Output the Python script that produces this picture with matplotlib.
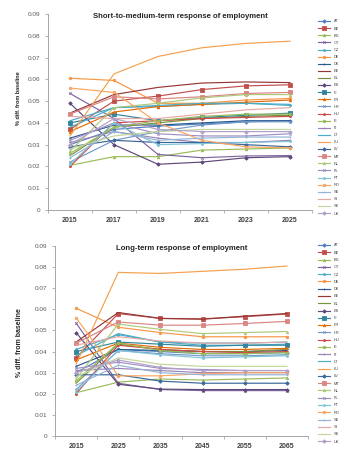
import matplotlib
matplotlib.use("Agg")
import matplotlib.pyplot as plt

plt.rcParams['font.family'] = ['Liberation Sans', 'DejaVu Sans']

countries = ["AT", "BE", "BG", "CY", "CZ", "DE", "DK", "EE", "EL", "ES",
             "FI", "FR", "HR", "HU", "IE", "IT", "LT", "LU", "LV", "MT",
             "NL", "PL", "PT", "RO", "SE", "SI", "SK", "UK"]

years_short = ["2015", "2017", "2019", "2021", "2023", "2025"]
years_long = ["2015", "2025", "2035", "2045", "2055", "2065"]

# Short-to-medium-term response, % diff. from baseline
short_term = {
    "AT": [0.030, 0.037, 0.0385, 0.0395, 0.0405, 0.041],
    "BE": [0.037, 0.050, 0.0523, 0.0553, 0.057, 0.0575],
    "BG": [0.0205, 0.0245, 0.0245, 0.0275, 0.028, 0.0285],
    "CY": [0.0535, 0.042, 0.0255, 0.024, 0.0248, 0.025],
    "CZ": [0.041, 0.047, 0.0475, 0.0485, 0.049, 0.048],
    "DE": [0.0605, 0.0595, 0.049, 0.049, 0.0505, 0.0512],
    "DK": [0.033, 0.039, 0.039, 0.040, 0.041, 0.041],
    "EE": [0.0445, 0.053, 0.0563, 0.0583, 0.0588, 0.0585],
    "EL": [0.025, 0.038, 0.040, 0.042, 0.043, 0.0435],
    "ES": [0.049, 0.030, 0.021, 0.022, 0.024, 0.0245],
    "FI": [0.040, 0.044, 0.041, 0.0425, 0.0435, 0.0445],
    "FR": [0.036, 0.045, 0.0475, 0.0485, 0.0495, 0.0505],
    "HR": [0.022, 0.032, 0.036, 0.039, 0.0405, 0.0405],
    "HU": [0.020, 0.040, 0.041, 0.042, 0.0425, 0.043],
    "IE": [0.026, 0.038, 0.041, 0.043, 0.044, 0.044],
    "IT": [0.031, 0.036, 0.033, 0.031, 0.031, 0.032],
    "LT": [0.038, 0.047, 0.048, 0.049, 0.049, 0.0485],
    "LU": [0.034, 0.0625, 0.0705, 0.0745, 0.0765, 0.0775],
    "LV": [0.029, 0.032, 0.031, 0.031, 0.030, 0.029],
    "MT": [0.044, 0.052, 0.051, 0.052, 0.0535, 0.054],
    "NL": [0.027, 0.047, 0.049, 0.0515, 0.053, 0.053],
    "PL": [0.032, 0.040, 0.035, 0.034, 0.034, 0.035],
    "PT": [0.021, 0.040, 0.030, 0.0305, 0.031, 0.0315],
    "RO": [0.056, 0.054, 0.040, 0.032, 0.029, 0.0285],
    "SE": [0.024, 0.036, 0.032, 0.033, 0.0335, 0.0335],
    "SI": [0.043, 0.042, 0.042, 0.044, 0.046, 0.047],
    "SK": [0.028, 0.034, 0.036, 0.037, 0.037, 0.037],
    "UK": [0.030, 0.042, 0.037, 0.036, 0.036, 0.036],
}

# Long-term response, % diff. from baseline
long_term = {
    "AT": [0.030, 0.041, 0.040, 0.039, 0.039, 0.0395],
    "BE": [0.037, 0.058, 0.0557, 0.0555, 0.0565, 0.0578],
    "BG": [0.0205, 0.0255, 0.027, 0.0265, 0.027, 0.0275],
    "CY": [0.0535, 0.025, 0.022, 0.0215, 0.0215, 0.0215],
    "CZ": [0.041, 0.048, 0.0445, 0.043, 0.043, 0.0435],
    "DE": [0.0605, 0.0515, 0.049, 0.047, 0.047, 0.047],
    "DK": [0.033, 0.041, 0.0405, 0.040, 0.040, 0.0405],
    "EE": [0.0445, 0.0585, 0.0557, 0.0553, 0.0568, 0.058],
    "EL": [0.025, 0.0435, 0.041, 0.040, 0.040, 0.041],
    "ES": [0.049, 0.0245, 0.0222, 0.022, 0.022, 0.022],
    "FI": [0.040, 0.0445, 0.0435, 0.0425, 0.043, 0.043],
    "FR": [0.036, 0.044, 0.042, 0.041, 0.041, 0.0415],
    "HR": [0.022, 0.0405, 0.039, 0.038, 0.038, 0.0385],
    "HU": [0.020, 0.043, 0.041, 0.040, 0.0395, 0.040],
    "IE": [0.026, 0.044, 0.0405, 0.039, 0.039, 0.0395],
    "IT": [0.031, 0.032, 0.031, 0.030, 0.030, 0.030],
    "LT": [0.038, 0.0485, 0.0445, 0.044, 0.044, 0.0445],
    "LU": [0.034, 0.0775, 0.077, 0.078, 0.079, 0.0805],
    "LV": [0.029, 0.029, 0.026, 0.025, 0.025, 0.025],
    "MT": [0.044, 0.054, 0.0525, 0.0525, 0.0533, 0.0543],
    "NL": [0.027, 0.053, 0.0505, 0.0485, 0.049, 0.0495],
    "PL": [0.032, 0.035, 0.032, 0.0315, 0.031, 0.031],
    "PT": [0.021, 0.0405, 0.0385, 0.037, 0.0375, 0.038],
    "RO": [0.056, 0.0285, 0.0285, 0.0295, 0.030, 0.030],
    "SE": [0.024, 0.0335, 0.030, 0.029, 0.029, 0.029],
    "SI": [0.043, 0.047, 0.045, 0.044, 0.044, 0.0445],
    "SK": [0.028, 0.037, 0.034, 0.033, 0.033, 0.033],
    "UK": [0.030, 0.036, 0.0325, 0.031, 0.031, 0.031],
}

colors = {
    "AT": "#4F81BD", "BE": "#C0504D", "BG": "#9BBB59", "CY": "#8064A2",
    "CZ": "#4BACC6", "DE": "#F79646", "DK": "#2C5A8F", "EE": "#953735",
    "EL": "#76923C", "ES": "#5F497A", "FI": "#31859C", "FR": "#E36C09",
    "HR": "#729ACA", "HU": "#CD4A47", "IE": "#9BBB59", "IT": "#9983B5",
    "LT": "#4BACC6", "LU": "#F5A04E", "LV": "#3A679C", "MT": "#D98684",
    "NL": "#AFC97A", "PL": "#9F8FC4", "PT": "#7FC4D8", "RO": "#FAA560",
    "SE": "#95B3D7", "SI": "#E6A8A6", "SK": "#C3D69B", "UK": "#B2A1C7",
}

marker_cycle = ["D", "s", "^", "x", "*", "o", "+", None, None]


def draw_panel(ax, years, data, title):
    x = range(len(years))
    for i, c in enumerate(countries):
        mk = marker_cycle[i % len(marker_cycle)]
        ms = 1.8
        if mk == "s":
            ms = 2.6
        if c == "FI":
            ms = 3.2
        ax.plot(x, data[c], color=colors[c], lw=0.85, marker=mk, ms=ms,
                mew=0.6, label=c)
    ax.set_xlim(-0.5, len(years) - 0.5)
    ax.set_ylim(0, 0.09)
    ax.set_yticks([0, 0.01, 0.02, 0.03, 0.04, 0.05, 0.06, 0.07, 0.08, 0.09])
    ax.set_yticklabels(["0", "0.01", "0.02", "0.03", "0.04", "0.05",
                        "0.06", "0.07", "0.08", "0.09"])
    ax.set_xticks(list(x))
    ax.set_xticklabels(years, fontweight="bold")
    ax.set_xticks([k + 0.5 for k in range(-1, len(years))], minor=True)
    ax.tick_params(axis="x", which="major", length=0, labelsize=5,
                   colors="#404040", pad=5)
    ax.tick_params(axis="x", which="minor", length=2.5, color="#A6A6A6",
                   width=0.6)
    ax.tick_params(axis="y", length=2.5, color="#A6A6A6", width=0.6,
                   labelsize=4.6, labelcolor="#595959", pad=3)
    for s in ("top", "right"):
        ax.spines[s].set_visible(False)
    for s in ("left", "bottom"):
        ax.spines[s].set_color("#A6A6A6")
        ax.spines[s].set_linewidth(0.7)
    ax.text(0.5, 0.985, title, transform=ax.transAxes, ha="center",
            va="center", fontsize=5.6, fontweight="bold", color="#262626")


fig = plt.figure(figsize=(3.48, 4.54), dpi=100)
W, H = 348, 454

ax1 = fig.add_axes([48 / W, (H - 210) / H, (312 - 48) / W, 196 / H])
ax2 = fig.add_axes([55 / W, (H - 436) / H, (308 - 55) / W, 190 / H])

draw_panel(ax1, years_short, short_term,
           "Short-to-medium-term response of employment")
draw_panel(ax2, years_long, long_term,
           "Long-term response of employment")

fig.text(18 / W, (H - 98) / H, "% diff. from baseline", rotation=90,
         ha="center", va="center", fontsize=4.0, fontweight="bold",
         color="#262626")
fig.text(20 / W, (H - 343) / H, "% diff. from baseline", rotation=90,
         ha="center", va="center", fontsize=5.0, fontweight="bold",
         color="#262626")

for ax, top, spacing in ((ax1, 19.5, 0.80), (ax2, 243.5, 0.84)):
    h, l = ax.get_legend_handles_labels()
    fig.legend(h, l, loc="upper left",
               bbox_to_anchor=(318 / W, (H - top) / H),
               bbox_transform=fig.transFigure, frameon=False,
               fontsize=2.8, handlelength=3.2, handletextpad=0.8,
               labelspacing=spacing, borderaxespad=0, borderpad=0,
               labelcolor="#404040")

fig.savefig("out.png", dpi=100)
